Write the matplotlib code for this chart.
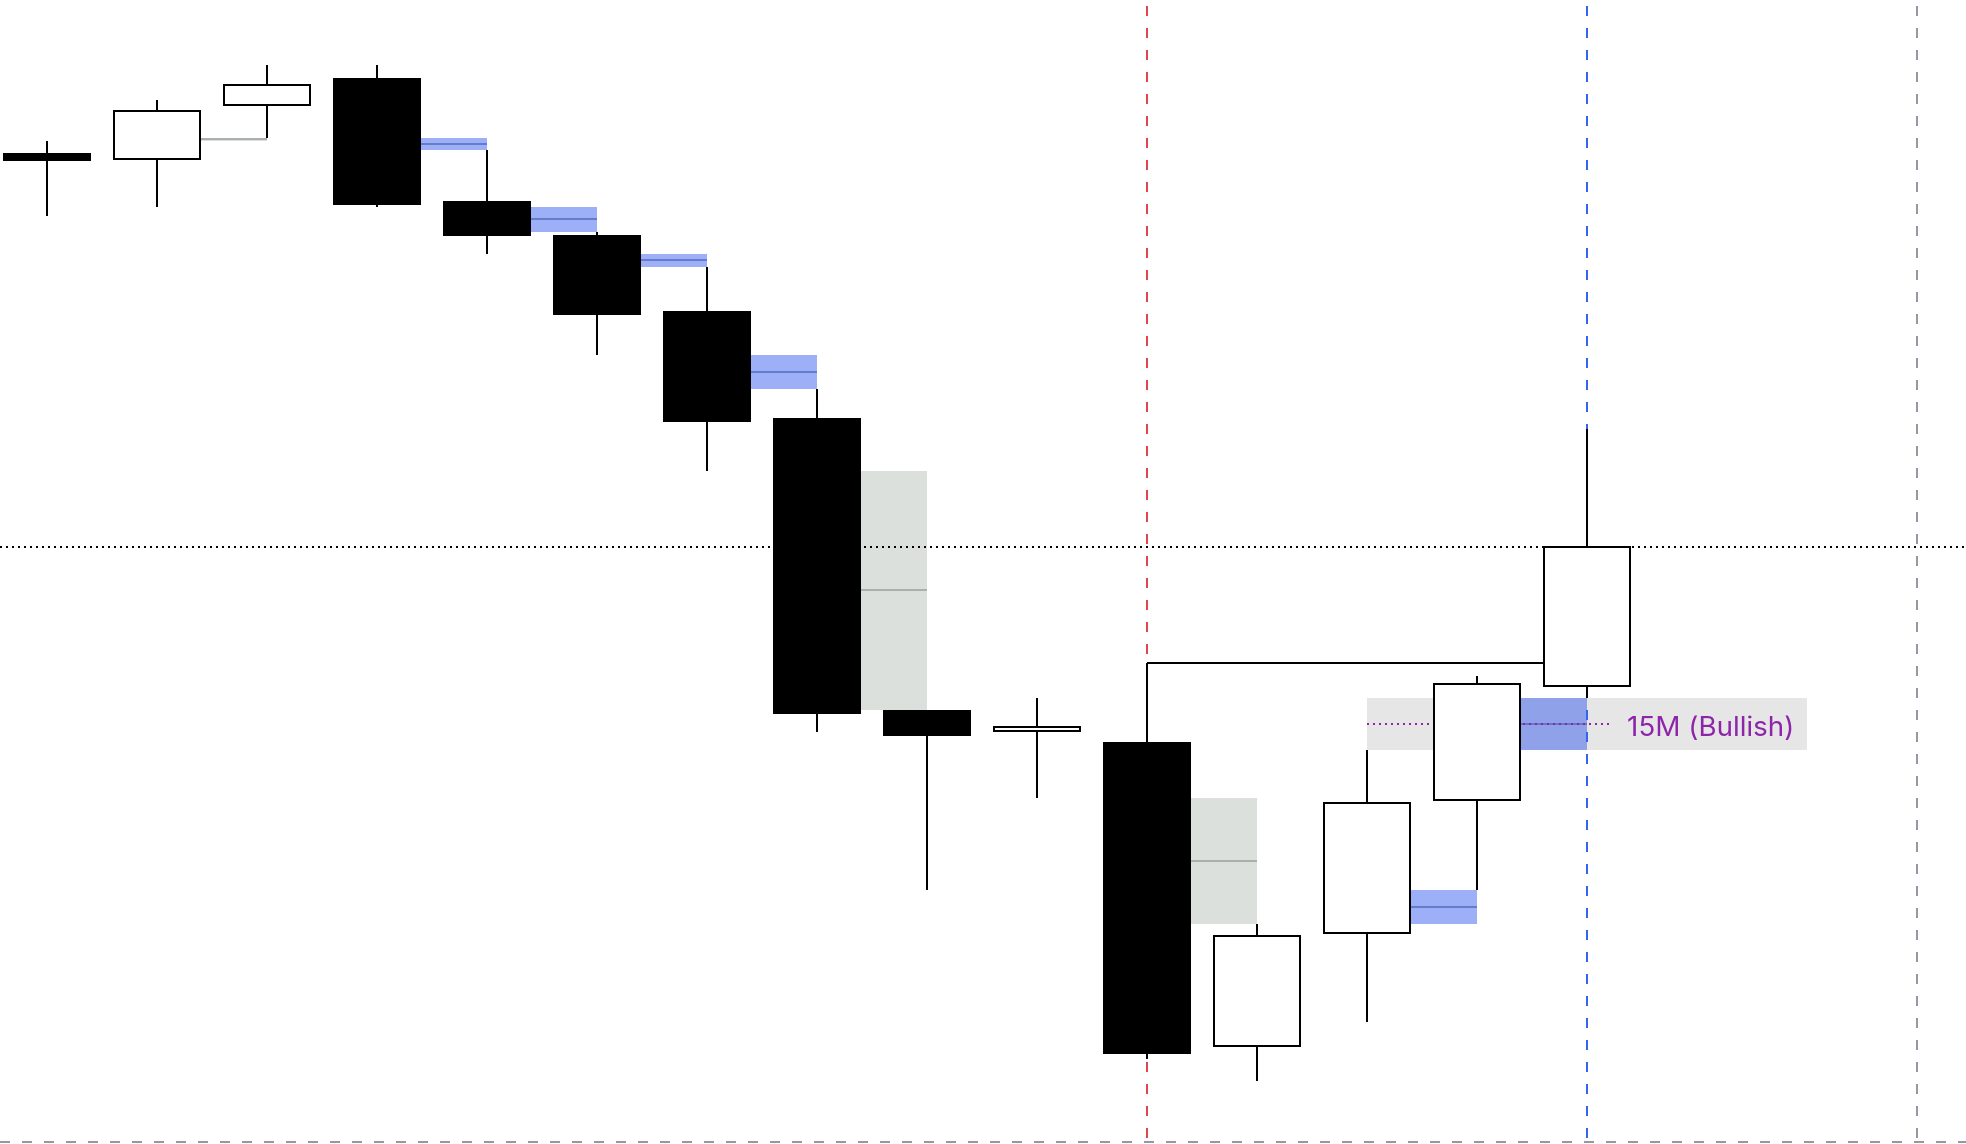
import matplotlib
matplotlib.use("Agg")
import matplotlib.pyplot as plt
from matplotlib.patches import Rectangle

plt.rcParams['lines.scale_dashes'] = False

# ---------------- data ----------------
opens  = [98.97, 98.53, 103.90, 106.50, 94.17, 90.80, 83.20, 72.50, 43.30, 41.27, 40.10, 9.80, 21.13, 34.43, 45.77]
highs  = [100.30, 104.40, 107.90, 107.90, 99.43, 91.23, 87.70, 75.50, 43.40, 44.60, 48.13, 22.03, 39.40, 46.80, 71.47]
lows   = [92.83, 93.73, 100.63, 93.73, 89.03, 78.93, 67.33, 41.23, 25.43, 34.63, 8.53, 6.33, 12.23, 25.40, 44.60]
closes = [98.43, 103.33, 105.87, 94.03, 90.93, 83.00, 72.30, 43.13, 40.93, 41.67, 9.13, 20.83, 34.13, 46.00, 59.70]

# fair value gaps: index of middle candle, and whether mitigated
fvg_mid       = [1, 3, 4, 5, 6, 7, 10, 12, 13]
fvg_mitigated = [True, False, False, False, False, True, True, False, False]

# break of structure: from swing-high candle to breaking candle
bos_from, bos_to = 10, 14

# vertical session markers
vline_x      = [10, 14, 17]
vline_colors = ['#E2434F', '#3563F2', '#9598A1']

# higher-timeframe FVG zone
htf_label = '15M (Bullish)'
htf_start, htf_end = 12, 16
htf_low, htf_high = 39.40, 44.60

# ---------------- figure ----------------
W, H, DPI = 1966, 1144, 100
fig = plt.figure(figsize=(W / DPI, H / DPI), dpi=DPI)
ax = fig.add_axes([0, 0, 1, 1])
ax.axis('off')
ax.set_xlim(-47 / 110, (W - 47) / 110)
ax.set_ylim(0, 114.4)

PX = 72 / DPI  # one pixel in points
lw = 2 * PX
body_w = 0.78

# HTF zone band
ax.add_patch(Rectangle((htf_start, htf_low), htf_end - htf_start, htf_high - htf_low,
                       facecolor='#E6E6E6', edgecolor='none', zorder=1))

# FVG boxes
for m, mit in zip(fvg_mid, fvg_mitigated):
    if lows[m - 1] > highs[m + 1]:      # bearish gap
        top, bot = lows[m - 1], highs[m + 1]
    else:                               # bullish gap
        top, bot = lows[m + 1], highs[m - 1]
    if mit:
        fc, mc, alpha = '#DCE0DC', '#A0A4A0', 1.0
    else:
        fc, mc, alpha = '#204BED', '#5870C0', 0.44
    ax.add_patch(Rectangle((m, bot), 1, top - bot, facecolor=fc, alpha=alpha,
                           edgecolor='none', zorder=1.5))
    ax.plot([m, m + 1], [(top + bot) / 2] * 2, color=mc, lw=1.6 * PX,
            solid_capstyle='butt', zorder=1.6)

# HTF midline (purple dotted) and label
mid = (htf_low + htf_high) / 2
ax.plot([htf_start, 14.24], [mid, mid], color='#8E24AA', lw=lw,
        linestyle=(0, (2 * PX, 4 * PX)), zorder=1.8)
ax.text(14.36, mid - 0.25, htf_label, color='#8E24AA', fontsize=20,
        family=['Inter', 'DejaVu Sans'], ha='left', va='center_baseline', zorder=5)

# current price dotted line
ax.axhline(closes[-1], color='black', lw=lw, linestyle=(0, (2 * PX, 4 * PX)), zorder=2)

# BOS line
ax.plot([bos_from, bos_to], [highs[bos_from]] * 2, color='black', lw=lw,
        solid_capstyle='butt', zorder=2)

# vertical dashed lines
for x, c in zip(vline_x, vline_colors):
    ax.plot([x, x], [114.4, 0], color=c, lw=lw,
            linestyle=(16 * PX, (10 * PX, 12 * PX)), zorder=2.5)

# bottom dashed line
ax.axhline(0.23, color='#9598A1', lw=lw, linestyle=(0, (10 * PX, 12 * PX)), zorder=2.5)

# candles
for i, (o, h, l, c) in enumerate(zip(opens, highs, lows, closes)):
    ax.plot([i, i], [l, h], color='black', lw=lw, solid_capstyle='butt', zorder=3)
    bull = c >= o
    ax.add_patch(Rectangle((i - body_w / 2, min(o, c)), body_w, abs(c - o),
                           facecolor='white' if bull else 'black',
                           edgecolor='black', lw=lw, zorder=4))

fig.savefig('out.png', dpi=DPI)
